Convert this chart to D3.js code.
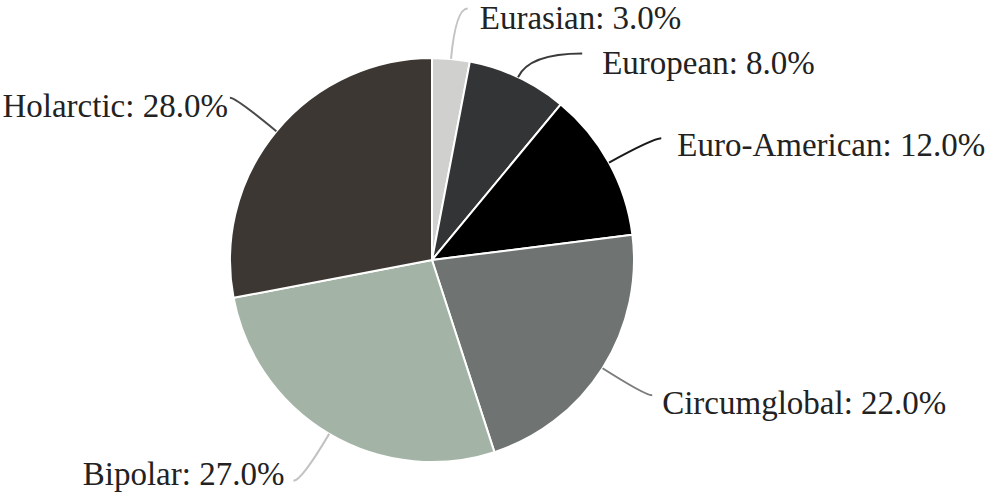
<!DOCTYPE html>
<html>
<head>
<meta charset="utf-8">
<script src="https://cdn.jsdelivr.net/npm/d3@7"></script>
<style>
  html, body { margin: 0; padding: 0; background: #fff; }
  svg { display: block; }
  .lbl { font-family: "Liberation Serif", "Tinos", "DejaVu Serif", serif; font-size: 33px; fill: #222; }
</style>
</head>
<body>
<svg id="chart" width="992" height="503"></svg>
<script>
// ---- data ----
const categories = ["Eurasian", "European", "Euro-American", "Circumglobal", "Bipolar", "Holarctic"];
const values = [3.0, 8.0, 12.0, 22.0, 27.0, 28.0];
const sliceColors = ["#d0d1cf", "#333435", "#000000", "#6f7372", "#a3b4a7", "#3c3732"];

// ---- layout (leader line / label placement) ----
const leaderColors = ["#c4c4c4", "#3a3a3a", "#1a1a1a", "#7a7d7c", "#c2c2c2", "#4a4a4a"];
// f: control radius factor, h: horizontal run, gap: label gap, dy: baseline offset
const labelLayout = [
  { f: 1.25, h: 12, gap: 12, dy: 20 },
  { f: 1.13, h: 53, gap: 20, dy: 21 },
  { f: 1.25, h: 8,  gap: 16, dy: 18 },
  { f: 1.25, h: 7,  gap: 10, dy: 19 },
  { f: 1.27, h: 8,  gap: 9,  dy: 4 },
  { f: 1.26, h: 6,  gap: 2,  dy: 19 }
];

const svg = d3.select("#chart");
const cx = 432, cy = 260, r = 202;
const g = svg.append("g").attr("transform", `translate(${cx},${cy})`);

const data = categories.map((c, i) => ({ name: c, value: values[i], i }));
const pie = d3.pie().value(d => d.value).sort(null).startAngle(0).endAngle(2 * Math.PI);
const arcs = pie(data);
const arc = d3.arc().innerRadius(0).outerRadius(r);

g.selectAll("path.slice")
  .data(arcs)
  .enter().append("path")
  .attr("class", "slice")
  .attr("d", arc)
  .attr("fill", d => sliceColors[d.data.i])
  .attr("stroke", "#ffffff")
  .attr("stroke-width", 2)
  .attr("stroke-linejoin", "round");

const polar = (a, rad) => [rad * Math.sin(a), -rad * Math.cos(a)];

arcs.forEach(d => {
  const i = d.data.i;
  const L = labelLayout[i];
  const mid = (d.startAngle + d.endAngle) / 2;
  const side = Math.sin(mid) >= 0 ? 1 : -1;
  const s = polar(mid, r);
  const c = polar(mid, r * L.f);
  const e = [c[0] + side * L.h, c[1]];
  const p = d3.path();
  p.moveTo(s[0], s[1]);
  p.quadraticCurveTo(c[0], c[1], e[0], e[1]);
  g.append("path")
    .attr("d", p.toString())
    .attr("fill", "none")
    .attr("stroke", leaderColors[i])
    .attr("stroke-width", 2);
  g.append("text")
    .attr("class", "lbl")
    .attr("x", e[0] + side * L.gap)
    .attr("y", e[1] + L.dy)
    .attr("text-anchor", side > 0 ? "start" : "end")
    .text(`${d.data.name}: ${d.data.value.toFixed(1)}%`);
});
</script>
</body>
</html>
